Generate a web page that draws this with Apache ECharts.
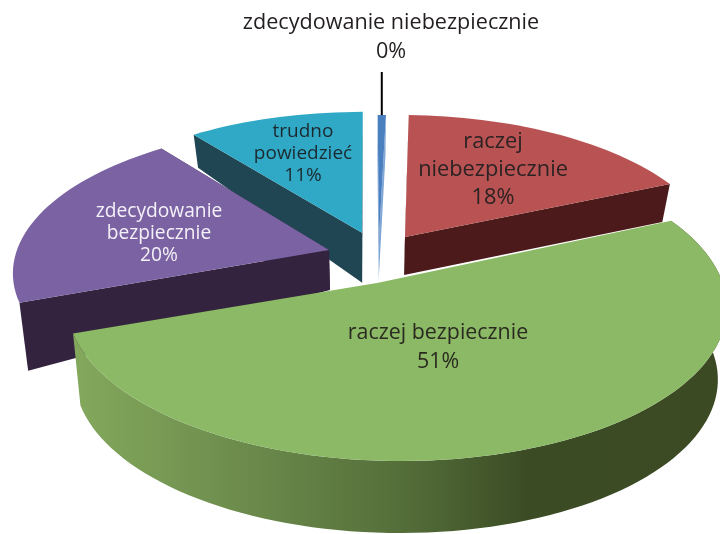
<!DOCTYPE html>
<html><head><meta charset="utf-8">
<style>html,body{margin:0;padding:0;background:#fff}#c{width:720px;height:534px}</style>
<script src="https://cdn.jsdelivr.net/npm/echarts@6/dist/echarts.min.js"></script>
</head><body><div id="c"></div>
<script>
// data
var categories = ['zdecydowanie niebezpiecznie','raczej niebezpiecznie','raczej bezpiecznie','zdecydowanie bezpiecznie','trudno powiedzieć'];
var values = [0.49, 18, 51, 20, 11];
var labelLines = [['zdecydowanie niebezpiecznie'],['raczej','niebezpiecznie'],['raczej bezpiecznie'],['zdecydowanie','bezpiecznie'],['trudno','powiedzieć']];
// style
var topColors = ['#4a7fc0','#b95353','#8cb966','#7b63a3','#30a9c6'];
var wallColors = ['#7fa6d4','#4c1a1a','#3c4d24','#33233f','#214653'];
var textColors = ['#231f20','#2b2223','#2a2a20','#f4f1f8','#1c2a30'];
var fontSizes = [21.6,21.8,21.4,19.2,19];
var lineHeights = [29,28,29,22,22];
var labelX = [391,493,438,159,303];
var labelY = [23,142,333,212,132];
// layout of the perspective disc
var CX=368, CY=237, RX=308, RZ=139, P=0.14, CONVERGE=0.975;
var explodeX=[11,37,27,-38.5,-6], explodeZ=[0,0,-0.315,-0.093,0.03];
var radiusScale=[1,1,1.013,1,1];
var apexShift=[0,0,-18,0,0], startTweak=[0,0,-2,0.5,1.7], endTweak=[0,0,2.5,1.7,0];
var rimDepth=[40,38,72,68,33], apexDepth=[43,38,0,40,50];
var drawOrder=[0,4,1,3,2];
var FONT='"Open Sans",sans-serif';

function proj(X,Z){var s=1/(1+P*Z);return [CX+X*s, CY-RZ*Z*s];}
function lower(p,d){return [CX+(p[0]-CX)*CONVERGE, p[1]+d];}
var total=values.reduce(function(a,b){return a+b;},0);
var starts=[],acc=0;
values.forEach(function(v){starts.push(acc/total*360);acc+=v;});

function renderItem(params,api){
  var v=api.value(0), i=api.value(1), d2r=Math.PI/180;
  var a0=starts[i]+startTweak[i], a1=starts[i]+v/total*360+endTweak[i];
  var rim=[],n=Math.max(6,Math.ceil((a1-a0)/2));
  for(var k=0;k<=n;k++){
    var a=(a0+(a1-a0)*k/n)*d2r;
    rim.push(proj(explodeX[i]+RX*radiusScale[i]*Math.sin(a),explodeZ[i]+Math.cos(a)));
  }
  var ap=proj(explodeX[i],explodeZ[i]); ap=[ap[0]+apexShift[i],ap[1]];
  var apB=lower(ap,apexDepth[i]);
  var rimB=rim.map(function(p){return lower(p,rimDepth[i]);});
  var kids=[];
  function poly(pts,fill){kids.push({type:'polygon',shape:{points:pts},style:{fill:fill}});}
  if(apexDepth[i]>0){
    poly([ap,rim[0],rimB[0],apB],wallColors[i]);
    poly([ap,rim[n],rimB[n],apB],wallColors[i]);
  } else {
    poly(rim.concat(rimB.slice().reverse()),{type:'linear',x:77,y:0,x2:720,y2:0,global:true,colorStops:[
      {offset:0,color:'#83a85c'},{offset:0.2,color:'#719250'},{offset:0.5,color:'#556f3a'},
      {offset:0.7,color:'#3b4c24'},{offset:1,color:'#3c4a24'}]});
  }
  poly([ap].concat(rim),topColors[i]);
  var pct=Math.round(v/total*100)+'%';
  var lines=labelLines[i].concat([pct]);
  lines.forEach(function(t,j){
    kids.push({type:'text',style:{text:t,x:labelX[i],y:labelY[i]+j*lineHeights[i],align:'center',verticalAlign:'middle',
      fill:textColors[i],font:fontSizes[i]+'px '+FONT}});
  });
  if(i===0){
    var m=rim[Math.round(n/2)];
    kids.push({type:'line',shape:{x1:m[0],y1:72,x2:m[0],y2:m[1]},style:{stroke:'#000',lineWidth:2}});
  }
  return {type:'group',children:kids};
}
var chart=echarts.init(document.getElementById('c'),null,{renderer:'canvas'});
chart.setOption({
  animation:false,backgroundColor:'#fff',
  series:[{type:'custom',coordinateSystem:'none',renderItem:renderItem,
    data:drawOrder.map(function(i){return {name:categories[i],value:[values[i],i]};}),
    encode:{value:0}}]
});
</script></body></html>
